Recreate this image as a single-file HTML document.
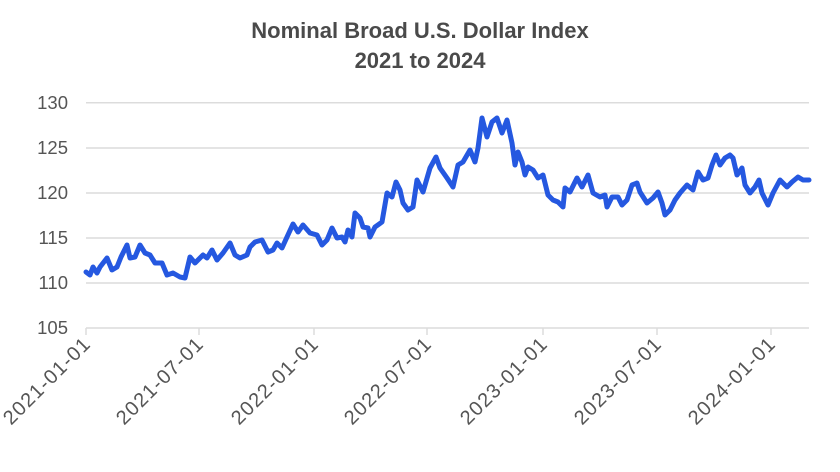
<!DOCTYPE html>
<html><head><meta charset="utf-8"><style>body{margin:0;background:#fff}svg{display:block}</style></head><body>
<svg width="840" height="472" xmlns="http://www.w3.org/2000/svg" font-family="Liberation Sans, sans-serif">
<text x="420" y="38" text-anchor="middle" font-size="22" font-weight="bold" fill="#4a4a4a">Nominal Broad U.S. Dollar Index</text>
<text x="420" y="68" text-anchor="middle" font-size="22" font-weight="bold" fill="#4a4a4a">2021 to 2024</text>
<g stroke="#dcdcdc" stroke-width="1.5">
<line x1="86" x2="809" y1="102.7" y2="102.7"/><line x1="86" x2="809" y1="148" y2="148"/><line x1="86" x2="809" y1="193" y2="193"/><line x1="86" x2="809" y1="238" y2="238"/><line x1="86" x2="809" y1="283" y2="283"/><line x1="86" x2="809" y1="328" y2="328"/>
<line x1="86" x2="86" y1="328" y2="335"/><line x1="199" x2="199" y1="328" y2="335"/><line x1="314" x2="314" y1="328" y2="335"/><line x1="427" x2="427" y1="328" y2="335"/><line x1="543" x2="543" y1="328" y2="335"/><line x1="657" x2="657" y1="328" y2="335"/><line x1="771" x2="771" y1="328" y2="335"/>
</g>
<g font-size="18.5" fill="#555" text-anchor="end">
<text x="68" y="109">130</text><text x="68" y="154">125</text><text x="68" y="199">120</text><text x="68" y="244">115</text><text x="68" y="289">110</text><text x="68" y="334">105</text>
</g>
<g font-size="20" fill="#555" text-anchor="end" letter-spacing="1.2">
<text transform="translate(92,345) rotate(-45)">2021-01-01</text>
<text transform="translate(205,345) rotate(-45)">2021-07-01</text>
<text transform="translate(320,345) rotate(-45)">2022-01-01</text>
<text transform="translate(433,345) rotate(-45)">2022-07-01</text>
<text transform="translate(549,345) rotate(-45)">2023-01-01</text>
<text transform="translate(663,345) rotate(-45)">2023-07-01</text>
<text transform="translate(777,345) rotate(-45)">2024-01-01</text>
</g>
<polyline fill="none" stroke="#2558e0" stroke-width="5" stroke-linejoin="round" stroke-linecap="round" points="86,272 90,275 93,267 97,273 100,267 107,258 112,270 117,267 121,257 127,245 130,258 135,257 140,245 145,253 150,255 155,263 162,263 167,275 173,273 180,277 185,278 190,257 195,263 203,255 207,258 212,250 217,260 223,253 230,243 235,255 240,258 247,255 250,247 255,242 262,240 268,252 273,250 277,243 282,248 287,237 293,224 298,232 303,225 310,233 317,235 322,245 327,240 332,228 337,238 342,237 345,242 348,230 352,237 355,213 360,218 363,227 368,228 370,237 375,227 382,222 387,193 392,197 396,182 400,190 403,203 408,210 413,207 417,180 423,192 430,168 436,157 440,168 447,178 453,187 458,165 463,162 470,150 475,162 478,148 482,118 487,137 492,122 497,118 502,133 507,120 512,143 515,165 518,152 522,162 525,175 528,167 533,170 538,178 543,175 548,195 553,200 558,202 563,207 565,188 570,192 577,178 582,187 588,175 593,193 600,197 605,195 607,207 612,197 618,197 622,205 627,200 632,185 637,183 640,192 647,203 653,198 658,192 662,203 665,215 670,210 675,200 680,193 687,185 693,190 698,172 703,180 708,178 712,165 716,155 720,165 725,158 730,155 733,158 737,175 742,168 745,185 750,193 755,187 759,180 762,193 768,205 773,193 780,180 787,187 792,182 798,177 803,180 809,180"/>
</svg>
</body></html>
